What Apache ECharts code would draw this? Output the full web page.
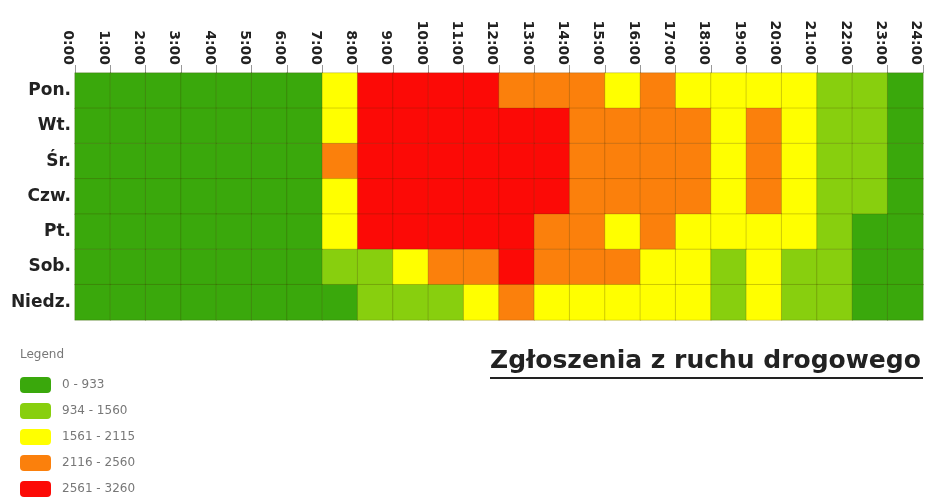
<!DOCTYPE html>
<html>
<head>
<meta charset="utf-8">
<script src="https://cdn.jsdelivr.net/npm/echarts@6/dist/echarts.min.js"></script>
<style>
html,body{margin:0;padding:0;background:#fff;}
#main{width:929px;height:499px;}
</style>
</head>
<body>
<div id="main"></div>
<script>
// Categories
var days = ['Pon.', 'Wt.', 'Śr.', 'Czw.', 'Pt.', 'Sob.', 'Niedz.'];
var hourCats = ['0','1','2','3','4','5','6','7','8','9','10','11','12','13','14','15','16','17','18','19','20','21','22','23'];
var hourLabels = ['0:00','1:00','2:00','3:00','4:00','5:00','6:00','7:00','8:00','9:00','10:00','11:00','12:00',
                  '13:00','14:00','15:00','16:00','17:00','18:00','19:00','20:00','21:00','22:00','23:00','24:00'];

// Values per day (estimated counts for each hour 0..23)
var pon   = [820, 610, 450, 380, 360, 420, 760, 1980, 2950, 3150, 3080, 2890, 2430, 2380, 2210, 2090, 2180, 2060, 1990, 1870, 1720, 1350, 1080, 880];
var wt    = [640, 470, 380, 330, 320, 400, 780, 2050, 3020, 3210, 3120, 2980, 2760, 2640, 2510, 2440, 2390, 2300, 2080, 2160, 1890, 1420, 1110, 870];
var sr    = [650, 480, 370, 320, 330, 410, 800, 2190, 3080, 3260, 3150, 3010, 2820, 2690, 2530, 2470, 2420, 2350, 2070, 2180, 1920, 1450, 1150, 900];
var czw   = [690, 500, 390, 340, 330, 420, 790, 2100, 3040, 3190, 3100, 2960, 2770, 2620, 2500, 2450, 2380, 2290, 2060, 2150, 1880, 1400, 1120, 910];
var pt    = [720, 520, 400, 350, 340, 430, 810, 2040, 2980, 3170, 3090, 2940, 2690, 2480, 2360, 2100, 2200, 2050, 1980, 1900, 1760, 1390, 920, 850];
var sob   = [900, 780, 690, 580, 500, 480, 620, 1150, 1480, 1880, 2280, 2470, 2600, 2500, 2390, 2200, 2090, 1820, 1530, 1640, 1510, 1260, 930, 890];
var niedz = [910, 860, 780, 690, 590, 520, 560, 860, 1080, 1300, 1490, 1700, 2170, 2010, 1950, 1900, 1860, 1700, 1500, 1580, 1420, 1190, 900, 760];

// Legend classes
var classMins   = [0, 934, 1561, 2116, 2561];
var classMaxs   = [933, 1560, 2115, 2560, 3260];
var classLabels = ['0 - 933', '934 - 1560', '1561 - 2115', '2116 - 2560', '2561 - 3260'];
var classColors = ['#3aa80c', '#88cf0e', '#ffff00', '#fb800c', '#fc0a06'];

var rows = [pon, wt, sr, czw, pt, sob, niedz];
var data = [];
rows.forEach(function (row, d) {
  row.forEach(function (v, h) { data.push([h, d, v]); });
});
var pieces = classMins.map(function (mn, i) {
  return { min: mn, max: classMaxs[i], label: classLabels[i], color: classColors[i] };
});

var chart = echarts.init(document.getElementById('main'), null, { renderer: 'canvas' });
chart.setOption({
  backgroundColor: '#ffffff',
  animation: false,
  grid: { left: 75, right: 6, top: 73, bottom: 179, containLabel: false, outerBoundsMode: 'none' },
  xAxis: [
    { type: 'category', data: hourCats, show: false, gridIndex: 0 },
    {
      type: 'value', min: 0, max: 24, interval: 1, position: 'top', gridIndex: 0,
      axisLine: { show: false },
      splitLine: { show: false },
      axisTick: { show: true, length: 8, lineStyle: { color: '#999', width: 1 } },
      axisLabel: {
        rotate: 90, margin: 8, verticalAlign: 'top',
        fontFamily: 'DejaVu Sans', fontWeight: 'bold', fontSize: 14, color: '#222',
        formatter: function (v) { return hourLabels[v]; }
      }
    }
  ],
  yAxis: {
    type: 'category', data: days, inverse: true,
    axisLine: { show: false }, axisTick: { show: false }, splitLine: { show: false },
    axisLabel: { margin: 4, fontFamily: 'DejaVu Sans', fontWeight: 'bold', fontSize: 17, color: '#222' }
  },
  visualMap: {
    type: 'piecewise', seriesIndex: 0, dimension: 2,
    pieces: pieces, inverse: true,
    orient: 'vertical', left: 20, top: 377, padding: 0,
    itemWidth: 31, itemHeight: 16, itemGap: 10, textGap: 11,
    hoverLink: false, selectedMode: false,
    textStyle: { fontFamily: 'DejaVu Sans', fontSize: 12, color: '#777' }
  },
  graphic: [
    { type: 'text', left: 20, top: 349, style: { text: 'Legend', fontFamily: 'DejaVu Sans', fontSize: 12, fill: '#777' } },
    { type: 'text', left: 490, top: 349, style: { text: 'Zgłoszenia z ruchu drogowego', fontFamily: 'DejaVu Sans', fontWeight: 'bold', fontSize: 25, fill: '#222' } },
    { type: 'rect', left: 490, top: 377, shape: { width: 433, height: 2 }, style: { fill: '#222' } }
  ],
  series: [{
    type: 'heatmap', xAxisIndex: 0, yAxisIndex: 0,
    data: data,
    itemStyle: { borderWidth: 1, borderColor: 'rgba(70,50,0,0.22)' },
    emphasis: { disabled: true }
  }]
});
</script>
</body>
</html>
